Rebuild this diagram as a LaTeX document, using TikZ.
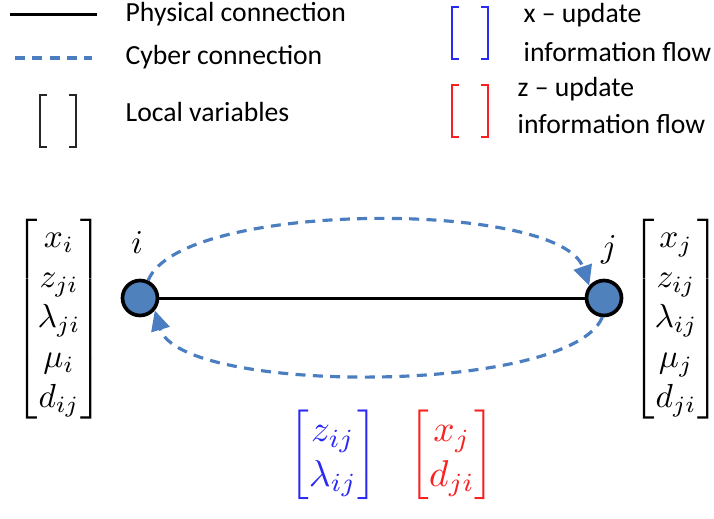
\documentclass[tikz,border=0pt]{standalone}
\usepackage{amsmath}
\usepackage{fontspec}
\newfontfamily\legendfont{Carlito}
\usetikzlibrary{arrows.meta}
\definecolor{nodeblue}{HTML}{4F81BD}
\definecolor{cyberblue}{HTML}{4A7EC0}
\definecolor{xblue}{HTML}{2A2AF5}
\definecolor{zred}{HTML}{FA2020}
\tikzset{
  legendtext/.style={anchor=base west, inner sep=0pt, font=\legendfont\fontsize{8.3}{10}\selectfont},
  physical/.style={line width=0.9pt, black},
  cyber/.style={line width=0.95pt, cyberblue, dash pattern=on 3pt off 2.2pt},
  cyberarrow/.style={cyber, -{Triangle[length=6pt,width=5.6pt,fill=cyberblue]}},
  bus/.style={circle, draw=black, line width=1.1pt, fill=nodeblue, minimum size=10.5pt, inner sep=0pt},
  bracketmark/.style={line width=0.55pt},
  varvec/.style={inner sep=0pt},
}
\begin{document}
\begin{tikzpicture}[x=0.3pt,y=-0.3pt]
\useasboundingbox (0,0) rectangle (714,518);

% legend: line styles
\draw[physical] (10,15) -- (97,15);
\node[legendtext] (lphys) at (125,22) {Physical connection};
\draw[cyber] (15,58) -- (92,58);
\node[legendtext] (lcyber) at (125,65) {Cyber connection};
\draw[bracketmark, black!85] (47,95) -- (40,95) -- (40,147) -- (47,147)
                             (69,95) -- (76,95) -- (76,147) -- (69,147);
\node[legendtext] (llocal) at (125,122) {Local variables};

% legend: information flows
\draw[bracketmark, xblue] (459,7) -- (452,7) -- (452,59) -- (459,59)
                          (481,7) -- (488,7) -- (488,59) -- (481,59);
\node[legendtext] (lx1) at (523,23) {x – update};
\node[legendtext] (lx2) at (523,62) {information flow};
\draw[bracketmark, zred] (459,85) -- (452,85) -- (452,137) -- (459,137)
                         (481,85) -- (488,85) -- (488,137) -- (481,137);
\node[legendtext] (lz1) at (517,97) {z – update};
\node[legendtext] (lz2) at (517,133) {information flow};

% buses and the physical line
\node[bus] (i) at (140,298) {};
\node[bus] (j) at (604,298) {};
\draw[physical] (i) -- (j);
\node (il) at (137,243) {$i$};
\node (jl) at (609,250) {$j$};

% cyber links
\draw[cyberarrow] (i.65) .. controls (180,200) and (560,200) .. (j.140);
\draw[cyberarrow] (j.265) .. controls (570,395) and (180,395) .. (i.-40);

% local variables
\node[varvec] (vi) at (59,319) {$\begin{bmatrix} x_i\\ z_{ji}\\ \lambda_{ji}\\ \mu_i\\ d_{ij}\end{bmatrix}$};
\node[varvec] (vj) at (676,319) {$\begin{bmatrix} x_j\\ z_{ij}\\ \lambda_{ij}\\ \mu_j\\ d_{ji}\end{bmatrix}$};

% exchanged information
\node[varvec, scale=1.12, text=xblue] (vx) at (333,455) {$\begin{bmatrix} z_{ij}\\ \lambda_{ij}\end{bmatrix}$};
\node[varvec, scale=1.12, text=zred] (vz) at (452,455) {$\begin{bmatrix} x_j\\ d_{ji}\end{bmatrix}$};
\end{tikzpicture}
\end{document}
